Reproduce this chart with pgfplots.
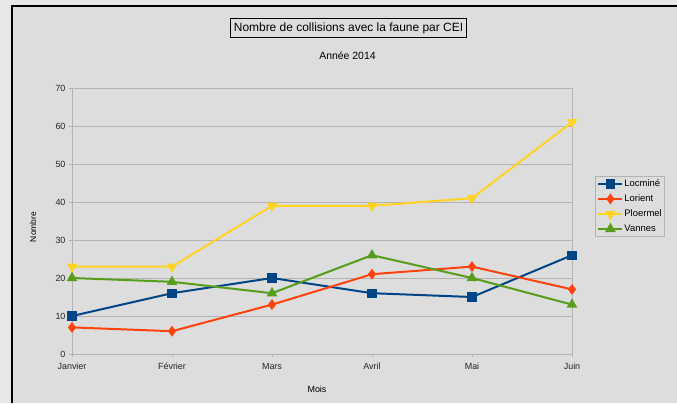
\documentclass[border=0pt]{standalone}
\usepackage{pgfplots}
\pgfplotsset{compat=1.18}
\usepackage{fontspec}
\setmainfont{Liberation Sans}
\definecolor{panel}{RGB}{221,221,221}
\definecolor{outer}{RGB}{232,232,232}
\definecolor{gridc}{RGB}{179,179,179}
\definecolor{locmine}{RGB}{0,69,134}
\definecolor{lorient}{RGB}{255,66,14}
\definecolor{ploermel}{RGB}{255,211,32}
\definecolor{vannes}{RGB}{87,157,28}

\begin{document}
\begin{tikzpicture}[x=1bp,y=1bp]
\fill[outer] (0,0) rectangle (677,403);
\path[use as bounding box] (0,0) rectangle (677,403);
\fill[panel] (11,0) rectangle (677,398);
\draw[black, line width=2bp] (12,0) -- (12,397) -- (677,397);

\node[draw=black, line width=1bp, fill=panel, inner xsep=3bp, inner ysep=4bp,
  font=\fontsize{12}{14}\selectfont] at (348.5,375) {Nombre de collisions avec la faune par CEI};
\node[font=\fontsize{10.5}{12}\selectfont] at (347.5,347) {Année 2014};
\node[font=\fontsize{8.5}{10}\selectfont, rotate=90] at (33,176) {Nombre};
\node[font=\fontsize{9}{10}\selectfont] at (317,14) {Mois};

\begin{axis}[
  at={(72bp,49bp)}, anchor=south west,
  scale only axis, width=500bp, height=266bp,
  xmin=0, xmax=5, ymin=0, ymax=70,
  enlargelimits=false,
  xtick={0,...,5},
  xticklabels={Janvier,Février,Mars,Avril,Mai,Juin},
  ytick={0,10,...,70},
  ymajorgrids, grid style={gridc, line width=0.8bp},
  axis line style={gridc, line width=0.8bp},
  tick style={gridc, line width=0.8bp},
  tick align=outside, major tick length=3bp,
  xtick pos=bottom, ytick pos=left,
  tick label style={font=\fontsize{9}{10}\selectfont, text=black!85},
  xticklabel style={yshift=-2.5bp},
  /pgf/number format/assume math mode=true,
  clip=false,
  every axis plot/.append style={line width=2bp},
  legend style={at={(1.046,0.669)}, anchor=north west, draw=gridc, fill=panel,
    font=\fontsize{9.5}{11}\selectfont, row sep=4bp, inner sep=2bp, line width=0.8bp,
    nodes={inner sep=1bp, text height=7bp, text depth=2bp}},
  legend cell align=left,
  legend image code/.code={
    \draw[mark repeat=2,mark phase=2] plot coordinates {(0bp,0bp) (12bp,0bp) (24bp,0bp)};
  },
]
\addplot[locmine, mark=square*, mark size=3.6bp] coordinates {
(0,10) (1,16) (2,20) (3,16) (4,15) (5,26)};
\addlegendentry{Locminé}
\addplot[lorient, mark=diamond*, mark size=3.8bp] coordinates {
(0,7) (1,6) (2,13) (3,21) (4,23) (5,17)};
\addlegendentry{Lorient}
\addplot[ploermel, mark=triangle*, mark size=4.2bp, mark options={rotate=180}] coordinates {
(0,23) (1,23) (2,39) (3,39) (4,41) (5,61)};
\addlegendentry{Ploermel}
\addplot[vannes, mark=triangle*, mark size=4.2bp] coordinates {
(0,20) (1,19) (2,16) (3,26) (4,20) (5,13)};
\addlegendentry{Vannes}
\end{axis}
\end{tikzpicture}
\end{document}
